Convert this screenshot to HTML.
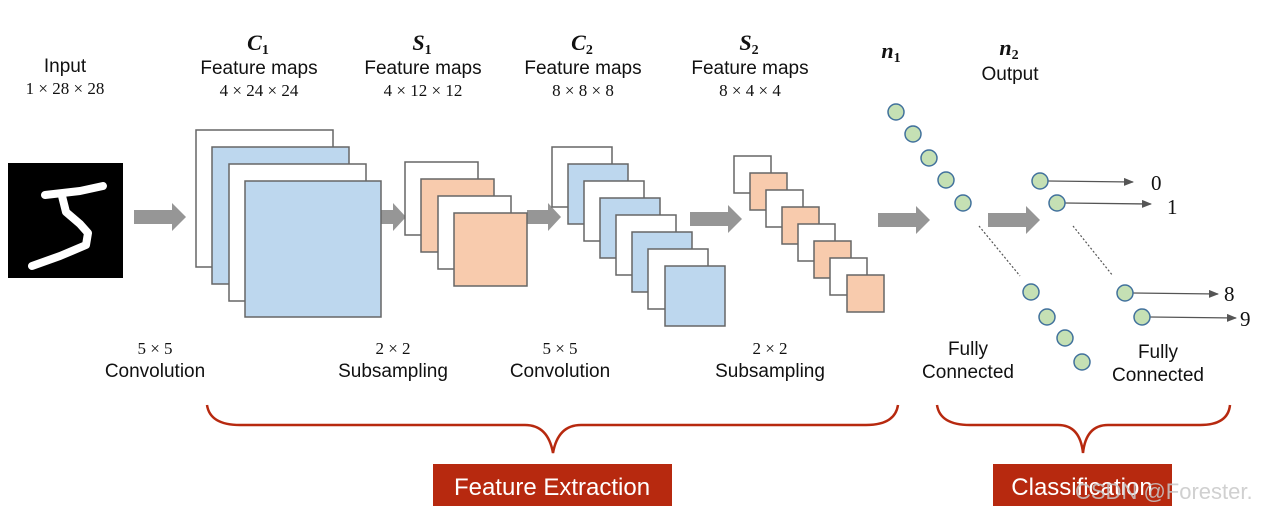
<!DOCTYPE html>
<html><head><meta charset="utf-8"><style>
html,body{margin:0;padding:0;background:#fff;}
svg{display:block;}
text{font-family:"Liberation Sans",sans-serif;fill:#111;}
.m{font-family:"Liberation Serif",serif;}
</style></head><body>
<svg width="1265" height="513" viewBox="0 0 1265 513" xmlns="http://www.w3.org/2000/svg">
<defs>
<marker id="ah" markerWidth="10" markerHeight="8" refX="9" refY="4" orient="auto" markerUnits="userSpaceOnUse"><path d="M0,0 L10,4 L0,8 Z" fill="#555"/></marker>
</defs>
<!-- input image -->
<rect x="8" y="163" width="115" height="115" fill="#000"/>
<g stroke="#fff" stroke-width="8" fill="none" stroke-linecap="round" stroke-linejoin="round">
<path d="M45,195 L80,191 L103,186"/>
<path d="M62,196 L66,212 L80,224 L88,233 L86,245 L60,256 L32,266"/>
</g>
<!-- arrows -->
<g fill="#969696">
<path d="M134,210 H172 V203 L186,217 L172,231 V224 H134 Z"/>
<path d="M381,210 H393 V203 L406,217 L393,231 V224 H381 Z"/>
<path d="M527,210 H548 V203 L561,217 L548,231 V224 H527 Z"/>
<path d="M690,212 H728 V205 L742,219 L728,233 V226 H690 Z"/>
<path d="M878,213 H916 V206 L930,220 L916,234 V227 H878 Z"/>
<path d="M988,213 H1026 V206 L1040,220 L1026,234 V227 H988 Z"/>
</g>
<g stroke="#666" stroke-width="1.5">
<rect x="196" y="130" width="137" height="137" fill="#fff"/>
<rect x="212" y="147" width="137" height="137" fill="#bdd7ee"/>
<rect x="229" y="164" width="137" height="137" fill="#fff"/>
<rect x="245" y="181" width="136" height="136" fill="#bdd7ee"/>
<rect x="405" y="162" width="73" height="73" fill="#fff"/>
<rect x="421" y="179" width="73" height="73" fill="#f8cbad"/>
<rect x="438" y="196" width="73" height="73" fill="#fff"/>
<rect x="454" y="213" width="73" height="73" fill="#f8cbad"/>
<rect x="552" y="147" width="60" height="60" fill="#fff"/>
<rect x="568" y="164" width="60" height="60" fill="#bdd7ee"/>
<rect x="584" y="181" width="60" height="60" fill="#fff"/>
<rect x="600" y="198" width="60" height="60" fill="#bdd7ee"/>
<rect x="616" y="215" width="60" height="60" fill="#fff"/>
<rect x="632" y="232" width="60" height="60" fill="#bdd7ee"/>
<rect x="648" y="249" width="60" height="60" fill="#fff"/>
<rect x="665" y="266" width="60" height="60" fill="#bdd7ee"/>
<rect x="734" y="156" width="37" height="37" fill="#fff"/>
<rect x="750" y="173" width="37" height="37" fill="#f8cbad"/>
<rect x="766" y="190" width="37" height="37" fill="#fff"/>
<rect x="782" y="207" width="37" height="37" fill="#f8cbad"/>
<rect x="798" y="224" width="37" height="37" fill="#fff"/>
<rect x="814" y="241" width="37" height="37" fill="#f8cbad"/>
<rect x="830" y="258" width="37" height="37" fill="#fff"/>
<rect x="847" y="275" width="37" height="37" fill="#f8cbad"/>
</g>
<g stroke="#555" stroke-width="1.2" stroke-dasharray="2,2">
<line x1="979" y1="226" x2="1020" y2="276"/>
<line x1="1073" y1="226" x2="1113" y2="276"/>
</g>
<g stroke="#555" stroke-width="1.3" marker-end="url(#ah)">
<line x1="1048" y1="181" x2="1133" y2="182"/>
<line x1="1065" y1="203" x2="1151" y2="204"/>
<line x1="1133" y1="293" x2="1218" y2="294"/>
<line x1="1150" y1="317" x2="1236" y2="318"/>
</g>
<g fill="#c5e0b4" stroke="#41719c" stroke-width="1.5">
<circle cx="896" cy="112" r="8"/><circle cx="913" cy="134" r="8"/><circle cx="929" cy="158" r="8"/><circle cx="946" cy="180" r="8"/><circle cx="963" cy="203" r="8"/>
<circle cx="1031" cy="292" r="8"/><circle cx="1047" cy="317" r="8"/><circle cx="1065" cy="338" r="8"/><circle cx="1082" cy="362" r="8"/>
<circle cx="1040" cy="181" r="8"/><circle cx="1057" cy="203" r="8"/><circle cx="1125" cy="293" r="8"/><circle cx="1142" cy="317" r="8"/>
</g>
<g font-size="21">
<text class="m" x="1151" y="190">0</text>
<text class="m" x="1167" y="214">1</text>
<text class="m" x="1224" y="301">8</text>
<text class="m" x="1240" y="326">9</text>
</g>
<g font-size="19" text-anchor="middle">
<text x="65" y="72">Input</text>
<text x="259" y="74">Feature maps</text>
<text x="423" y="74">Feature maps</text>
<text x="583" y="74">Feature maps</text>
<text x="750" y="74">Feature maps</text>
<text x="1010" y="80">Output</text>
</g>
<g font-size="17" text-anchor="middle">
<text class="m" x="65" y="94">1 × 28 × 28</text>
<text class="m" x="259" y="96">4 × 24 × 24</text>
<text class="m" x="423" y="96">4 × 12 × 12</text>
<text class="m" x="583" y="96">8 × 8 × 8</text>
<text class="m" x="750" y="96">8 × 4 × 4</text>
<text class="m" x="155" y="354">5 × 5</text>
<text class="m" x="393" y="354">2 × 2</text>
<text class="m" x="560" y="354">5 × 5</text>
<text class="m" x="770" y="354">2 × 2</text>
</g>
<g font-size="22" font-weight="bold" font-style="italic" text-anchor="middle">
<text class="m" x="258" y="50">C<tspan font-size="14" dy="4" font-style="normal">1</tspan></text>
<text class="m" x="422" y="50">S<tspan font-size="14" dy="4" font-style="normal">1</tspan></text>
<text class="m" x="582" y="50">C<tspan font-size="14" dy="4" font-style="normal">2</tspan></text>
<text class="m" x="749" y="50">S<tspan font-size="14" dy="4" font-style="normal">2</tspan></text>
<text class="m" x="891" y="58">n<tspan font-size="14" dy="4" font-style="normal">1</tspan></text>
<text class="m" x="1009" y="55">n<tspan font-size="14" dy="4" font-style="normal">2</tspan></text>
</g>
<g font-size="19" text-anchor="middle">
<text x="155" y="377">Convolution</text>
<text x="393" y="377">Subsampling</text>
<text x="560" y="377">Convolution</text>
<text x="770" y="377">Subsampling</text>
<text x="968" y="355">Fully</text>
<text x="968" y="378">Connected</text>
<text x="1158" y="358">Fully</text>
<text x="1158" y="381">Connected</text>
</g>
<g fill="none" stroke="#b7290f" stroke-width="2.5">
<path d="M207,405 Q210,425 240,425 H525 Q548,425 553,453 Q558,425 581,425 H866 Q895,425 898,405"/>
<path d="M937,405 Q940,425 970,425 H1058 Q1080,425 1083,453 Q1086,425 1108,425 H1200 Q1228,425 1230,405"/>
</g>
<rect x="433" y="464" width="239" height="42" fill="#b7290f"/>
<rect x="993" y="464" width="179" height="42" fill="#b7290f"/>
<text x="552" y="495" font-size="24" text-anchor="middle" style="fill:#fff">Feature Extraction</text>
<text x="1082" y="495" font-size="24" text-anchor="middle" style="fill:#fff">Classification</text>
<text x="1075" y="499" font-size="22" style="fill:rgba(200,200,200,0.85)">CSDN @Forester.</text>
</svg>
</body></html>
